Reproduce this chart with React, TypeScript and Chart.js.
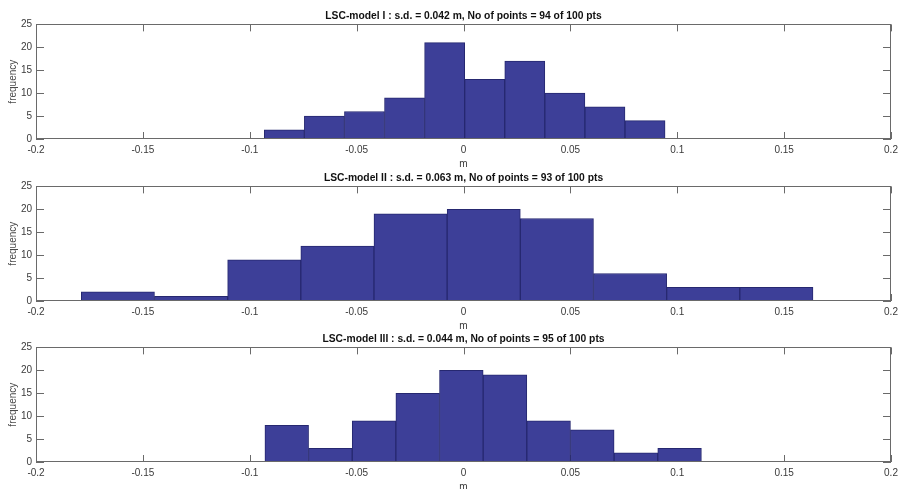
import React, { useEffect, useRef } from "react";
import { Chart, registerables } from "chart.js";

Chart.register(...registerables);

// ---- data ----
const titles = [
  "LSC-model I : s.d. = 0.042 m, No of points = 94 of 100 pts",
  "LSC-model II : s.d. = 0.063 m, No of points = 93 of 100 pts",
  "LSC-model III : s.d. = 0.044 m, No of points = 95 of 100 pts",
];
const counts1 = [2, 5, 6, 9, 21, 13, 17, 10, 7, 4];
const counts2 = [2, 1, 9, 12, 19, 20, 18, 6, 3, 3];
const counts3 = [8, 3, 9, 15, 20, 19, 9, 7, 2, 3];
// first and last bin edge of each histogram (m)
const binRange1 = [-0.0932, 0.0943];
const binRange2 = [-0.1788, 0.1635];
const binRange3 = [-0.0929, 0.1113];
const xTicks = [-0.2, -0.15, -0.1, -0.05, 0, 0.05, 0.1, 0.15, 0.2];
const yTicks = [0, 5, 10, 15, 20, 25];
const xAxisLabel = "m";
const yAxisLabel = "frequency";

const series = [
  { counts: counts1, range: binRange1 },
  { counts: counts2, range: binRange2 },
  { counts: counts3, range: binRange3 },
];

const CANVAS_W = 899;
const CANVAS_H = 170;
const tops = [0, 162, 323];
const FONT = "'Liberation Sans', Arial, Helvetica, sans-serif";
const FRAME = "#6a6a6a";

const fmt = (v: number) => String(Math.round(v * 100) / 100);

const framePlugin = {
  id: "matlabFrame",
  beforeDatasetsDraw(chart: any) {
    const { ctx, chartArea: a, scales } = chart;
    const x = scales.x;
    const y = scales.y;
    ctx.save();
    ctx.strokeStyle = FRAME;
    ctx.lineWidth = 1;
    ctx.beginPath();
    for (const v of xTicks) {
      const px = Math.round(x.getPixelForValue(v)) + 0.5;
      ctx.moveTo(px, a.bottom);
      ctx.lineTo(px, a.bottom - 7);
      ctx.moveTo(px, a.top);
      ctx.lineTo(px, a.top + 7);
    }
    for (const v of yTicks) {
      const py = Math.round(y.getPixelForValue(v)) + 0.5;
      ctx.moveTo(a.left, py);
      ctx.lineTo(a.left + 8, py);
      ctx.moveTo(a.right, py);
      ctx.lineTo(a.right - 8, py);
    }
    ctx.stroke();
    ctx.restore();
  },
  afterDatasetsDraw(chart: any) {
    const { ctx, chartArea: a } = chart;
    ctx.save();
    ctx.strokeStyle = FRAME;
    ctx.lineWidth = 1;
    const l = Math.round(a.left) + 0.5;
    const t = Math.round(a.top) + 0.5;
    const r = Math.round(a.right) - 0.5;
    const b = Math.round(a.bottom) - 0.5;
    ctx.strokeRect(l, t, r - l, b - t);
    ctx.restore();
  },
};

function makeConfig(i: number): any {
  const { counts, range } = series[i];
  const w = (range[1] - range[0]) / counts.length;
  const points = counts.map((c, k) => ({ x: range[0] + w * (k + 0.5), y: c }));
  return {
    type: "bar",
    data: {
      datasets: [
        {
          data: points,
          backgroundColor: "#3d3f98",
          borderColor: "#262870",
          borderWidth: 1,
          borderSkipped: false,
          barPercentage: 1,
          categoryPercentage: 1,
        },
      ],
    },
    options: {
      animation: false,
      responsive: false,
      maintainAspectRatio: false,
      events: [],
      layout: { padding: { left: 0, right: 8, top: 0, bottom: 0 } },
      plugins: {
        legend: { display: false },
        tooltip: { enabled: false },
        title: {
          display: true,
          text: titles[i],
          fullSize: false,
          color: "#111",
          font: { family: FONT, size: 10.3, weight: "bold" },
          padding: { top: 10, bottom: 2 },
        },
      },
      scales: {
        x: {
          type: "linear",
          min: -0.2,
          max: 0.2,
          offset: false,
          grid: { display: false, drawTicks: false },
          border: { display: false },
          ticks: {
            padding: 5.5,
            color: "#3a3a3a",
            font: { family: FONT, size: 10 },
            maxRotation: 0,
            autoSkip: false,
            callback: (v: number) => fmt(v),
          },
          afterBuildTicks: (s: any) => {
            s.ticks = xTicks.map((v) => ({ value: v }));
          },
          afterFit: (s: any) => {
            s.height = 31;
            s.paddingLeft = 0;
            s.paddingRight = 0;
          },
          title: {
            display: true,
            text: xAxisLabel,
            color: "#3a3a3a",
            font: { family: FONT, size: 10 },
            padding: 0,
          },
        },
        y: {
          min: 0,
          max: 25,
          grid: { display: false, drawTicks: false },
          border: { display: false },
          ticks: {
            padding: 4,
            color: "#3a3a3a",
            font: { family: FONT, size: 10 },
            autoSkip: false,
            callback: (v: number) => fmt(v),
          },
          afterBuildTicks: (s: any) => {
            s.ticks = yTicks.map((v) => ({ value: v }));
          },
          afterFit: (s: any) => {
            s.width = 36;
            s.paddingTop = 0;
            s.paddingBottom = 0;
          },
          title: {
            display: true,
            text: yAxisLabel,
            color: "#4a4a4a",
            font: { family: FONT, size: 10 },
            padding: { top: 7, bottom: 0 },
          },
        },
      },
    },
    plugins: [framePlugin],
  };
}

function Histogram({ index }: { index: number }) {
  const ref = useRef<HTMLCanvasElement | null>(null);
  useEffect(() => {
    if (!ref.current) return;
    const chart = new Chart(ref.current, makeConfig(index));
    return () => chart.destroy();
  }, [index]);
  return (
    <canvas
      ref={ref}
      width={CANVAS_W}
      height={CANVAS_H}
      style={{
        position: "absolute",
        left: 0,
        top: tops[index],
        width: CANVAS_W,
        height: CANVAS_H,
      }}
    />
  );
}

export default function App() {
  return (
    <div
      style={{
        position: "absolute",
        left: 0,
        top: 0,
        width: 899,
        height: 489,
        overflow: "hidden",
        background: "#fff",
      }}
    >
      {[0, 1, 2].map((i) => (
        <Histogram key={i} index={i} />
      ))}
    </div>
  );
}
